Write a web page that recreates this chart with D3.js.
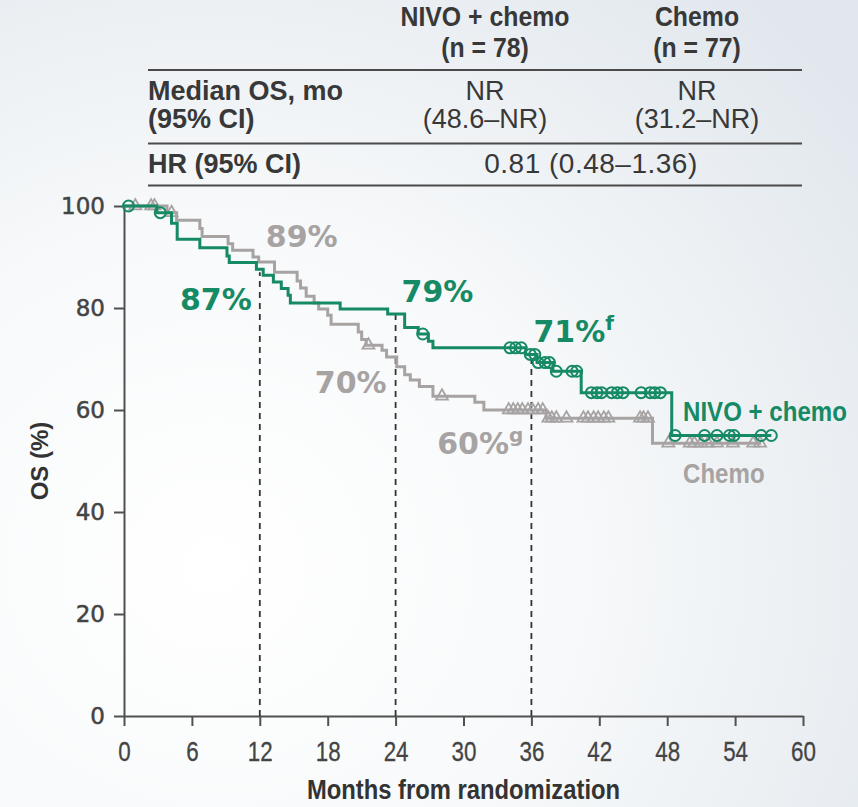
<!DOCTYPE html>
<html>
<head>
<meta charset="utf-8">
<script src="https://cdn.jsdelivr.net/npm/d3@7"></script>
<style>
  html, body { margin: 0; padding: 0; background: #f4f6f8; }
  svg { display: block; }
</style>
</head>
<body>
<svg id="chart" width="858" height="807"></svg>
<script>
// ---- Data -------------------------------------------------------------
const monthTicks = [0, 6, 12, 18, 24, 30, 36, 42, 48, 54, 60];
const osTicks = [0, 20, 40, 60, 80, 100];

// NIVO + chemo: Kaplan-Meier steps (event month, survival % after the step)
const nivoTimes = [0, 2.9, 4.2, 4.7, 6.7, 9.1, 9.3, 11.7, 12.3, 13.2, 13.9, 14.5, 14.7, 19.1, 23.3, 24.8, 26.0, 26.9, 27.3, 35.5, 36.5, 37.9, 40.4, 48.4];
const nivoSurv  = [100, 98.7, 96.6, 93.5, 91.8, 90.2, 88.9, 87.6, 86.4, 85.1, 83.8, 82.5, 81.0, 79.8, 78.8, 76.2, 74.9, 73.5, 72.2, 70.9, 69.3, 67.6, 63.4, 55.0];
const nivoCensored = [0.4, 3.2, 26.4, 34.1, 34.6, 35.1, 35.9, 36.3, 36.6, 37.2, 37.6, 38.2, 39.6, 40.0, 41.3, 41.8, 42.2, 43.1, 43.6, 44.1, 45.7, 46.5, 46.9, 47.4, 48.7, 51.3, 52.4, 53.5, 53.9, 56.3, 57.2];
const nivoLastFollowUp = 57.2;

// Chemo: Kaplan-Meier steps
const chemoTimes = [0, 3.8, 4.65, 6.7, 6.9, 9.2, 9.6, 11.4, 11.9, 13.3, 15.3, 15.6, 16.1, 16.8, 17.2, 18.0, 18.3, 20.7, 21.0, 21.4, 22.8, 23.2, 24.1, 24.8, 25.3, 26.1, 27.3, 31.0, 31.8, 37.3, 46.7];
const chemoSurv  = [100, 98.7, 97.2, 95.6, 94.0, 92.6, 91.3, 90.0, 89.0, 87.0, 85.3, 83.9, 82.3, 81.0, 79.8, 78.6, 76.8, 75.3, 73.8, 72.7, 71.7, 70.4, 68.5, 66.9, 65.9, 64.6, 62.7, 61.5, 60.0, 58.4, 53.5];
const chemoCensored = [1.0, 2.4, 2.7, 4.2, 21.6, 28.1, 34.0, 34.4, 34.8, 35.2, 35.7, 36.1, 36.6, 37.0, 37.5, 37.8, 38.2, 39.1, 40.6, 41.0, 41.5, 41.9, 42.4, 42.8, 45.6, 45.9, 46.3, 48.1, 50.0, 50.4, 51.0, 51.6, 52.4, 53.8, 55.6, 56.2];
const chemoLastFollowUp = 56.3;

// Landmark OS rates
const landmarkMonths = [12, 24, 36];
const nivoLandmark  = [87, 79, 71];
const chemoLandmark = [89, 70, 60];
const nivoLandmarkNote  = ["", "", "f"];
const chemoLandmarkNote = ["", "", "g"];

// Summary table
const armNames   = ["NIVO + chemo", "Chemo"];
const armN       = ["(n = 78)", "(n = 77)"];
const medianOS   = ["NR", "NR"];
const medianCI   = ["(48.6\u2013NR)", "(31.2\u2013NR)"];
const rowLabels  = ["Median OS, mo", "(95% CI)", "HR (95% CI)"];
const hazardText = "0.81 (0.48\u20131.36)";

// ---- Styles -----------------------------------------------------------
const GREEN = "#168a64";
const GRAY  = "#a7a3a3";
const INK   = "#383838";
const AXIS  = "#505050";
const SANS  = "'Liberation Sans', Arial, sans-serif";
const WIDE  = "'DejaVu Sans', Verdana, sans-serif";

const svg = d3.select("#chart");

// Text helper; sx < 1 gives a condensed face by narrowing the glyphs
function label(parent, o) {
  const sx = o.sx || 1;
  return parent.append("text")
    .attr("transform", `translate(${o.x},${o.y})` + (sx !== 1 ? ` scale(${sx},1)` : ""))
    .attr("text-anchor", o.anchor || "start")
    .attr("font-family", o.family || SANS)
    .attr("font-weight", o.weight || 400)
    .attr("font-size", o.size)
    .attr("letter-spacing", o.spacing || null)
    .attr("fill", o.fill || INK)
    .text(o.text);
}

// soft background wash
const defs = svg.append("defs");
const bg = defs.append("radialGradient").attr("id", "wash")
  .attr("cx", "25%").attr("cy", "70%").attr("r", "95%");
bg.append("stop").attr("offset", "0%").attr("stop-color", "#ffffff");
bg.append("stop").attr("offset", "45%").attr("stop-color", "#f7f9fa");
bg.append("stop").attr("offset", "100%").attr("stop-color", "#e1e7ed");
svg.append("rect").attr("width", 858).attr("height", 807).attr("fill", "url(#wash)");

// ---- Scales -----------------------------------------------------------
const x = d3.scaleLinear().domain([0, 60]).range([124, 803]);
const y = d3.scaleLinear().domain([0, 100]).range([716, 206]);

// ---- Summary table ----------------------------------------------------
const colX = [485, 697];
const table = svg.append("g");

[70, 143.5, 185.5].forEach(ry => {
  table.append("line").attr("x1", 148).attr("x2", 802).attr("y1", ry).attr("y2", ry)
    .attr("stroke", "#4a4a4a").attr("stroke-width", 2);
});

armNames.forEach((name, i) => {
  label(table, { x: colX[i], y: 26, anchor: "middle", weight: 700, size: 27, sx: 0.92, text: name });
  label(table, { x: colX[i], y: 57, anchor: "middle", weight: 700, size: 27, sx: 0.92, text: armN[i] });
  label(table, { x: colX[i], y: 100, anchor: "middle", size: 27, text: medianOS[i] });
  label(table, { x: colX[i], y: 128, anchor: "middle", size: 27, text: medianCI[i] });
});

[100, 128, 173].forEach((by, i) => {
  label(table, { x: 148, y: by, weight: 700, size: 27, text: rowLabels[i] });
});
label(table, { x: (colX[0] + colX[1]) / 2, y: 173, anchor: "middle", size: 28, spacing: 0.5, text: hazardText });

// ---- Axes -------------------------------------------------------------
const gx = svg.append("g").attr("transform", `translate(0,${y(0)})`)
  .call(d3.axisBottom(x).tickValues(monthTicks).tickSize(10).tickSizeOuter(0).tickPadding(15));
gx.select(".domain").attr("stroke", AXIS).attr("stroke-width", 2);
gx.selectAll(".tick line").attr("stroke", AXIS).attr("stroke-width", 2);
gx.selectAll(".tick text").attr("font-family", SANS).attr("font-size", 28).attr("fill", "#444")
  .attr("stroke", "#444").attr("stroke-width", 0.3)
  .attr("transform", "scale(0.8,1)");

const gy = svg.append("g").attr("transform", `translate(${x(0)},0)`)
  .call(d3.axisLeft(y).tickValues(osTicks).tickSize(10).tickSizeOuter(0).tickPadding(9));
gy.select(".domain").attr("stroke", AXIS).attr("stroke-width", 2);
gy.selectAll(".tick line").attr("stroke", AXIS).attr("stroke-width", 2);
gy.selectAll(".tick text").attr("font-family", WIDE).attr("font-size", 23).attr("fill", "#444")
  .attr("stroke", "#444").attr("stroke-width", 0.5);

label(svg, { x: (x(0) + x(60)) / 2, y: 799, anchor: "middle", weight: 700, size: 28, sx: 0.85,
  fill: "#333", text: "Months from randomization" });

svg.append("text").attr("transform", `translate(48,${(y(0) + y(100)) / 2}) rotate(-90)`)
  .attr("text-anchor", "middle").attr("font-family", SANS).attr("font-weight", 700)
  .attr("font-size", 24).attr("fill", "#333").text("OS (%)");

// ---- Landmark guides --------------------------------------------------
landmarkMonths.forEach((m, i) => {
  svg.append("line").attr("x1", x(m)).attr("x2", x(m)).attr("y1", y(0)).attr("y2", y(nivoLandmark[i]))
    .attr("stroke", "#333").attr("stroke-width", 1.8).attr("stroke-dasharray", "6,5");
});

// ---- KM curves --------------------------------------------------------
function stepPoints(times, surv, end) {
  const pts = times.map((t, i) => [t, surv[i]]);
  pts.push([end, surv[surv.length - 1]]);
  return pts;
}
function survivalAt(times, surv, t) {
  const i = d3.bisectRight(times, t) - 1;
  return surv[Math.max(0, i)];
}
const km = d3.line().x(d => x(d[0])).y(d => y(d[1])).curve(d3.curveStepAfter);

const arms = [
  { times: chemoTimes, surv: chemoSurv, cens: chemoCensored, end: chemoLastFollowUp, color: GRAY, mark: "triangle" },
  { times: nivoTimes,  surv: nivoSurv,  cens: nivoCensored,  end: nivoLastFollowUp,  color: GREEN, mark: "circle" }
];

arms.forEach(a => {
  svg.append("path").attr("d", km(stepPoints(a.times, a.surv, a.end)))
    .attr("fill", "none").attr("stroke", a.color).attr("stroke-width", 3);
  const g = svg.append("g");
  if (a.mark === "circle") {
    g.selectAll("circle").data(a.cens).join("circle")
      .attr("cx", d => x(d)).attr("cy", d => y(survivalAt(a.times, a.surv, d)))
      .attr("r", 5.5).attr("fill", "none").attr("stroke", a.color).attr("stroke-width", 2);
  } else {
    const tri = d3.symbol(d3.symbolTriangle, 62);
    g.selectAll("path").data(a.cens).join("path")
      .attr("d", tri)
      .attr("transform", d => `translate(${x(d)},${y(survivalAt(a.times, a.surv, d))})`)
      .attr("fill", "none").attr("stroke", a.color).attr("stroke-width", 1.8);
  }
});

// ---- Curve labels -----------------------------------------------------
label(svg, { x: 683, y: 421, weight: 700, size: 28, sx: 0.86, fill: GREEN, text: armNames[0] });
label(svg, { x: 683, y: 483, weight: 700, size: 28, sx: 0.86, fill: GRAY, text: armNames[1] });

// ---- Landmark rate labels ---------------------------------------------
function rateLabel(px, py, anchor, value, note, color) {
  const t = svg.append("text").attr("x", px).attr("y", py).attr("text-anchor", anchor)
    .attr("font-family", WIDE).attr("font-weight", 700).attr("font-size", 30).attr("fill", color);
  t.append("tspan").text(value + "%");
  if (note) t.append("tspan").attr("font-size", 20).attr("dy", -12).text(note);
}
// 12 months
rateLabel(x(12) + 6, y(chemoLandmark[0]) - 15, "start", chemoLandmark[0], chemoLandmarkNote[0], GRAY);
rateLabel(x(12) - 8, y(nivoLandmark[0]) + 38, "end", nivoLandmark[0], nivoLandmarkNote[0], GREEN);
// 24 months
rateLabel(x(24) + 6, y(nivoLandmark[1]) - 11, "start", nivoLandmark[1], nivoLandmarkNote[1], GREEN);
rateLabel(x(24) - 9, y(chemoLandmark[1]) + 34, "end", chemoLandmark[1], chemoLandmarkNote[1], GRAY);
// 36 months
rateLabel(x(36) + 2, y(nivoLandmark[2]) - 12, "start", nivoLandmark[2], nivoLandmarkNote[2], GREEN);
rateLabel(x(36) - 8, y(chemoLandmark[2]) + 44, "end", chemoLandmark[2], chemoLandmarkNote[2], GRAY);
</script>
</body>
</html>
